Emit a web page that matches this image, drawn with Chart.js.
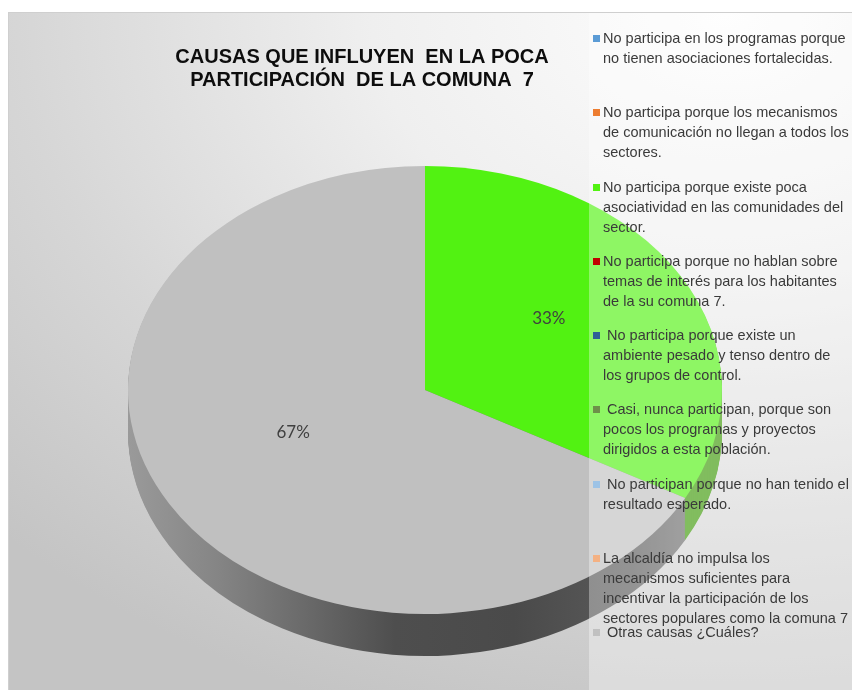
<!DOCTYPE html>
<html>
<head>
<meta charset="utf-8">
<script src="https://cdn.jsdelivr.net/npm/chart.js@4.4.0/dist/chart.umd.min.js"></script>
<style>
body{margin:0;background:#fff;}
#wrap{position:relative;width:852px;height:690px;overflow:hidden;}
#frame{position:absolute;left:8px;top:12px;right:0;bottom:0;border-left:1px solid #cfcfcf;border-top:1px solid #cfcfcf;
  background:radial-gradient(ellipse 120% 110% at 85% 0%, #fdfdfd 0%, #efefef 35%, #d6d6d6 70%, #c4c4c4 100%);}
#chart{position:absolute;left:0;top:0;}
#panel{position:absolute;left:589px;top:13px;width:263px;bottom:0;background:rgba(255,255,255,0.35);}
#legend{position:absolute;left:0;top:0;font-family:"Liberation Sans",Arial,sans-serif;font-size:14.5px;color:#3a3a3a;}
.item{position:absolute;left:603px;line-height:20px;white-space:pre;}
.box{position:absolute;left:-10px;top:7px;width:7px;height:7px;}
</style>
</head>
<body>
<div id="wrap">
  <div id="frame"></div>
  <canvas id="chart" width="852" height="690"></canvas>
  <div id="panel"></div>
  <div id="legend"></div>
</div>
<script>
// datos de la encuesta
const titleLines = ['CAUSAS QUE INFLUYEN  EN LA POCA', 'PARTICIPACIÓN  DE LA COMUNA  7']
const labels = [
  ['No participa en los programas porque', 'no tienen asociaciones fortalecidas.'],
  ['No participa porque los mecanismos', 'de comunicación no llegan a todos los', 'sectores.'],
  ['No participa porque existe poca', 'asociatividad en las comunidades del', 'sector.'],
  ['No participa porque no hablan sobre', 'temas de interés para los habitantes', 'de la su comuna 7.'],
  [' No participa porque existe un', 'ambiente pesado y tenso dentro de', 'los grupos de control.'],
  [' Casi, nunca participan, porque son', 'pocos los programas y proyectos', 'dirigidos a esta población.'],
  [' No participan porque no han tenido el', 'resultado esperado.'],
  ['La alcaldía no impulsa los', 'mecanismos suficientes para', 'incentivar la participación de los', 'sectores populares como la comuna 7'],
  [' Otras causas ¿Cuáles?']
]
const values = [0, 0, 33, 0, 0, 0, 0, 0, 67]
const colors = ['#5B9BD5', '#ED7D31', '#52F212', '#C00000', '#2F5E96', '#6E8F4A', '#9DC3E6', '#F4B183', '#C0C0C0']
const sideColors = ['#3d6d99', '#a8561f', '#3f9a0a', '#800000', '#1f3f66', '#4a6030', '#6a8aa6', '#ad7c5a', null]

// ellipse of the tilted pie (screen px)
const pieX = 425, pieY = 390, pieRX = 297, pieRY = 224, depth = 42
const labelLift = 14 // perspective: labels sit a bit higher than the flat ellipse

const tilt = {
  id: 'tilt',
  beforeDatasetsDraw(chart) {
    const ctx = chart.ctx
    const meta = chart.getDatasetMeta(0)
    const a0 = meta.data[0]
    const r0 = a0.outerRadius, cx0 = a0.x, cy0 = a0.y
    ctx.save()
    ctx.translate(pieX, pieY)
    ctx.scale(pieRX / r0, pieRY / r0)
    ctx.translate(-cx0, -cy0)
    const g = ctx.createLinearGradient(cx0 - r0, 0, cx0 + r0, 0)
    g.addColorStop(0, '#9a9a9a')
    g.addColorStop(0.15, '#858585')
    g.addColorStop(0.45, '#4e4e4e')
    g.addColorStop(0.65, '#4a4a4a')
    g.addColorStop(0.85, '#5a5a5a')
    g.addColorStop(1, '#7a7a7a')
    for (let d = depth; d > 0; d--) {
      ctx.save()
      ctx.translate(0, d * r0 / pieRY)
      meta.data.forEach((arc, i) => {
        if (!values[i]) return
        const side = Object.create(arc)
        side.options = Object.assign({}, arc.options, {backgroundColor: sideColors[i] || g, borderWidth: 0})
        side.draw(ctx)
      })
      ctx.restore()
    }
  },
  afterDatasetsDraw(chart) {
    const ctx = chart.ctx
    ctx.restore()
    const meta = chart.getDatasetMeta(0)
    const a0 = meta.data[0]
    const r0 = a0.outerRadius, cx0 = a0.x, cy0 = a0.y
    const total = values.reduce((s, v) => s + v, 0)
    ctx.save()
    ctx.font = '17px Lato, "Noto Sans", sans-serif'
    ctx.fillStyle = '#404040'
    ctx.textAlign = 'center'
    ctx.textBaseline = 'middle'
    meta.data.forEach((arc, i) => {
      if (!values[i]) return
      const p = arc.tooltipPosition()
      const x = pieX + (p.x - cx0) * pieRX / r0
      const y = pieY + (p.y - cy0) * pieRY / r0 - labelLift
      ctx.fillText(Math.round(values[i] / total * 100) + '%', x - 4, y)
    })
    ctx.restore()
  }
}

new Chart(document.getElementById('chart'), {
  type: 'pie',
  data: {
    labels: labels,
    datasets: [{
      data: values,
      backgroundColor: colors,
      borderWidth: 0
    }]
  },
  options: {
    responsive: false,
    animation: false,
    layout: {padding: {top: 12, left: 0, right: 128, bottom: 10}},
    plugins: {
      legend: {display: false},
      tooltip: {enabled: false},
      title: {
        display: true,
        text: titleLines,
        color: '#0d0d0d',
        font: {family: '"Liberation Sans", Arial, sans-serif', size: 20, weight: 'bold', lineHeight: 1.15},
        padding: {top: 34, bottom: 10}
      }
    }
  },
  plugins: [tilt]
})

// leyenda
const leg = document.getElementById('legend')
labels.forEach((lines, i) => {
  const it = document.createElement('div')
  it.className = 'item'
  it.style.top = (28 + i * 74.25) + 'px'
  const b = document.createElement('span')
  b.className = 'box'
  b.style.background = colors[i]
  it.appendChild(b)
  it.appendChild(document.createTextNode(lines.join('\n')))
  leg.appendChild(it)
})
</script>
</body>
</html>
